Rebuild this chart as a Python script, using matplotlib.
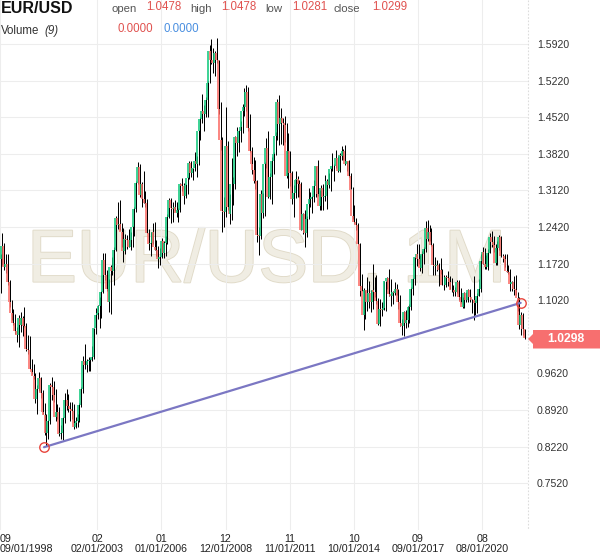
import matplotlib
matplotlib.use('Agg')
import matplotlib.pyplot as plt
from matplotlib.collections import LineCollection
from matplotlib.patches import Polygon
from matplotlib.lines import Line2D
import matplotlib.patheffects as pe
import numpy as np

plt.rcParams['font.family'] = ['Liberation Sans', 'DejaVu Sans']

# ---------------- data (monthly EUR/USD, Sep 1998 .. Jul 2022) ----------------
start_year, start_month = 1998, 9

open_ = [
    1.120, 1.180, 1.205, 1.165,
    1.172, 1.136, 1.098, 1.078, 1.058, 1.043, 1.035, 1.068, 1.055, 1.068, 1.052, 1.009,
    1.007, 0.971, 0.965, 0.957, 0.913, 0.933, 0.953, 0.925, 0.888, 0.883, 0.849, 0.872,
    0.940, 0.937, 0.921, 0.878, 0.888, 0.846, 0.849, 0.876, 0.911, 0.911, 0.900, 0.895,
    0.890, 0.860, 0.868, 0.872, 0.901, 0.933, 0.986, 0.978, 0.979, 0.986, 0.988, 0.993,
    1.049, 1.074, 1.078, 1.091, 1.117, 1.179, 1.150, 1.124, 1.099, 1.165, 1.158, 1.199,
    1.259, 1.245, 1.248, 1.232, 1.197, 1.220, 1.217, 1.203, 1.218, 1.243, 1.276, 1.327,
    1.357, 1.304, 1.325, 1.296, 1.288, 1.230, 1.210, 1.212, 1.233, 1.203, 1.199, 1.180,
    1.184, 1.216, 1.193, 1.212, 1.262, 1.293, 1.279, 1.276, 1.281, 1.268, 1.275, 1.325,
    1.320, 1.302, 1.323, 1.336, 1.365, 1.345, 1.354, 1.369, 1.362, 1.426, 1.448, 1.464,
    1.459, 1.485, 1.518, 1.579, 1.561, 1.555, 1.575, 1.561, 1.467, 1.409, 1.273, 1.270,
    1.397, 1.280, 1.267, 1.325, 1.324, 1.415, 1.403, 1.425, 1.434, 1.464, 1.472, 1.500,
    1.432, 1.387, 1.363, 1.351, 1.330, 1.227, 1.224, 1.305, 1.268, 1.363, 1.393, 1.299,
    1.338, 1.369, 1.381, 1.417, 1.481, 1.439, 1.450, 1.440, 1.437, 1.339, 1.387, 1.345,
    1.296, 1.308, 1.332, 1.334, 1.324, 1.236, 1.267, 1.230, 1.258, 1.286, 1.296, 1.299,
    1.320, 1.358, 1.306, 1.282, 1.317, 1.300, 1.301, 1.330, 1.322, 1.353, 1.358, 1.359,
    1.374, 1.349, 1.380, 1.377, 1.387, 1.363, 1.369, 1.339, 1.313, 1.263, 1.252, 1.245,
    1.210, 1.129, 1.120, 1.073, 1.122, 1.099, 1.115, 1.099, 1.121, 1.118, 1.101, 1.057,
    1.086, 1.083, 1.087, 1.138, 1.145, 1.113, 1.110, 1.117, 1.116, 1.124, 1.098, 1.059,
    1.052, 1.080, 1.058, 1.065, 1.090, 1.124, 1.142, 1.184, 1.191, 1.181, 1.164, 1.190,
    1.200, 1.241, 1.219, 1.232, 1.208, 1.169, 1.168, 1.169, 1.160, 1.160, 1.131, 1.131,
    1.147, 1.145, 1.137, 1.122, 1.122, 1.117, 1.137, 1.108, 1.099, 1.090, 1.115, 1.102,
    1.121, 1.109, 1.103, 1.103, 1.096, 1.110, 1.123, 1.178, 1.194, 1.172, 1.165, 1.193,
    1.222, 1.214, 1.207, 1.173, 1.202, 1.223, 1.186, 1.187, 1.181, 1.158, 1.156, 1.134,
    1.137, 1.124, 1.122, 1.107, 1.054, 1.073, 1.0478,
]

high = [
    1.190, 1.230, 1.212, 1.190,
    1.191, 1.141, 1.103, 1.085, 1.075, 1.050, 1.074, 1.080, 1.071, 1.090, 1.059, 1.036,
    1.034, 0.990, 0.980, 0.962, 0.939, 0.964, 0.955, 0.931, 0.905, 0.884, 0.873, 0.944,
    0.955, 0.947, 0.933, 0.903, 0.897, 0.863, 0.878, 0.925, 0.933, 0.922, 0.907, 0.908,
    0.904, 0.878, 0.884, 0.905, 0.937, 0.996, 1.019, 0.989, 0.994, 0.991, 1.015, 1.049,
    1.087, 1.093, 1.109, 1.120, 1.193, 1.193, 1.160, 1.143, 1.169, 1.185, 1.203, 1.264,
    1.290, 1.293, 1.250, 1.240, 1.229, 1.227, 1.239, 1.232, 1.244, 1.281, 1.330, 1.367,
    1.362, 1.329, 1.349, 1.310, 1.295, 1.238, 1.232, 1.249, 1.252, 1.218, 1.205, 1.202,
    1.221, 1.216, 1.225, 1.266, 1.298, 1.297, 1.289, 1.294, 1.290, 1.279, 1.327, 1.336,
    1.327, 1.325, 1.338, 1.368, 1.368, 1.355, 1.385, 1.377, 1.427, 1.452, 1.497, 1.475,
    1.490, 1.522, 1.590, 1.602, 1.584, 1.578, 1.604, 1.562, 1.482, 1.415, 1.300, 1.472,
    1.406, 1.305, 1.374, 1.338, 1.417, 1.434, 1.428, 1.444, 1.478, 1.508, 1.514, 1.510,
    1.458, 1.395, 1.375, 1.370, 1.332, 1.243, 1.312, 1.308, 1.366, 1.413, 1.425, 1.345,
    1.376, 1.385, 1.424, 1.486, 1.494, 1.470, 1.450, 1.454, 1.441, 1.422, 1.388, 1.349,
    1.323, 1.349, 1.339, 1.332, 1.328, 1.269, 1.274, 1.264, 1.317, 1.309, 1.302, 1.331,
    1.358, 1.371, 1.313, 1.322, 1.324, 1.342, 1.334, 1.345, 1.355, 1.384, 1.362, 1.389,
    1.378, 1.383, 1.397, 1.392, 1.399, 1.369, 1.370, 1.345, 1.319, 1.285, 1.260, 1.250,
    1.212, 1.153, 1.125, 1.122, 1.147, 1.139, 1.121, 1.171, 1.146, 1.150, 1.106, 1.105,
    1.099, 1.139, 1.139, 1.146, 1.162, 1.143, 1.119, 1.137, 1.133, 1.124, 1.112, 1.067,
    1.081, 1.083, 1.091, 1.095, 1.127, 1.145, 1.185, 1.209, 1.209, 1.188, 1.196, 1.203,
    1.254, 1.256, 1.245, 1.240, 1.212, 1.185, 1.179, 1.174, 1.182, 1.162, 1.150, 1.150,
    1.157, 1.149, 1.145, 1.132, 1.127, 1.141, 1.141, 1.125, 1.109, 1.118, 1.118, 1.124,
    1.124, 1.105, 1.149, 1.102, 1.115, 1.142, 1.191, 1.203, 1.201, 1.188, 1.200, 1.231,
    1.235, 1.224, 1.210, 1.215, 1.227, 1.225, 1.191, 1.190, 1.191, 1.169, 1.161, 1.138,
    1.148, 1.150, 1.118, 1.109, 1.079, 1.077, 1.0478,
]

low = [
    1.115, 1.170, 1.160, 1.155,
    1.131, 1.089, 1.064, 1.054, 1.038, 1.023, 1.012, 1.042, 1.034, 1.050, 1.005, 1.000,
    0.970, 0.961, 0.951, 0.906, 0.884, 0.929, 0.915, 0.884, 0.845, 0.823, 0.836, 0.866,
    0.912, 0.907, 0.872, 0.874, 0.843, 0.837, 0.834, 0.868, 0.893, 0.889, 0.871, 0.874,
    0.856, 0.857, 0.860, 0.869, 0.898, 0.925, 0.971, 0.964, 0.966, 0.967, 0.985, 0.989,
    1.037, 1.066, 1.049, 1.068, 1.115, 1.141, 1.120, 1.080, 1.076, 1.150, 1.131, 1.196,
    1.239, 1.236, 1.203, 1.176, 1.190, 1.200, 1.203, 1.199, 1.204, 1.225, 1.270, 1.325,
    1.299, 1.280, 1.288, 1.281, 1.230, 1.199, 1.187, 1.210, 1.199, 1.186, 1.164, 1.169,
    1.182, 1.183, 1.187, 1.209, 1.260, 1.250, 1.251, 1.272, 1.262, 1.251, 1.270, 1.310,
    1.286, 1.297, 1.306, 1.333, 1.338, 1.331, 1.350, 1.337, 1.361, 1.409, 1.440, 1.425,
    1.453, 1.452, 1.518, 1.554, 1.536, 1.531, 1.555, 1.458, 1.390, 1.233, 1.242, 1.261,
    1.275, 1.248, 1.256, 1.285, 1.315, 1.378, 1.385, 1.405, 1.421, 1.455, 1.464, 1.425,
    1.386, 1.344, 1.327, 1.315, 1.214, 1.188, 1.220, 1.259, 1.263, 1.355, 1.297, 1.296,
    1.286, 1.343, 1.380, 1.409, 1.399, 1.400, 1.398, 1.405, 1.336, 1.317, 1.320, 1.286,
    1.262, 1.298, 1.299, 1.300, 1.236, 1.229, 1.204, 1.222, 1.257, 1.280, 1.269, 1.290,
    1.299, 1.302, 1.275, 1.274, 1.275, 1.292, 1.277, 1.316, 1.311, 1.350, 1.330, 1.354,
    1.348, 1.347, 1.370, 1.370, 1.360, 1.350, 1.338, 1.315, 1.258, 1.250, 1.236, 1.210,
    1.110, 1.120, 1.046, 1.066, 1.082, 1.087, 1.079, 1.086, 1.109, 1.094, 1.055, 1.052,
    1.071, 1.084, 1.082, 1.123, 1.110, 1.091, 1.095, 1.112, 1.112, 1.085, 1.052, 1.035,
    1.034, 1.049, 1.050, 1.058, 1.084, 1.112, 1.131, 1.168, 1.172, 1.157, 1.155, 1.172,
    1.195, 1.216, 1.215, 1.206, 1.151, 1.151, 1.158, 1.130, 1.152, 1.132, 1.122, 1.127,
    1.129, 1.123, 1.118, 1.110, 1.111, 1.116, 1.102, 1.096, 1.088, 1.088, 1.099, 1.098,
    1.098, 1.078, 1.064, 1.073, 1.077, 1.110, 1.118, 1.171, 1.161, 1.162, 1.160, 1.193,
    1.203, 1.195, 1.170, 1.170, 1.199, 1.184, 1.175, 1.166, 1.156, 1.152, 1.119, 1.120,
    1.112, 1.112, 1.081, 1.047, 1.035, 1.036, 1.0281,
]

close = [
    1.180, 1.205, 1.165, 1.172,
    1.136, 1.098, 1.078, 1.058, 1.043, 1.035, 1.068, 1.055, 1.068, 1.052, 1.009, 1.007,
    0.971, 0.965, 0.957, 0.913, 0.933, 0.953, 0.925, 0.888, 0.883, 0.849, 0.872, 0.940,
    0.937, 0.921, 0.878, 0.888, 0.846, 0.849, 0.876, 0.911, 0.911, 0.900, 0.895, 0.890,
    0.860, 0.868, 0.872, 0.901, 0.933, 0.986, 0.978, 0.979, 0.986, 0.988, 0.993, 1.049,
    1.074, 1.078, 1.091, 1.117, 1.179, 1.150, 1.124, 1.099, 1.165, 1.158, 1.199, 1.259,
    1.245, 1.248, 1.232, 1.197, 1.220, 1.217, 1.203, 1.218, 1.243, 1.276, 1.327, 1.357,
    1.304, 1.325, 1.296, 1.288, 1.230, 1.210, 1.212, 1.233, 1.203, 1.199, 1.180, 1.184,
    1.216, 1.193, 1.212, 1.262, 1.293, 1.279, 1.276, 1.281, 1.268, 1.275, 1.325, 1.320,
    1.302, 1.323, 1.336, 1.365, 1.345, 1.354, 1.369, 1.362, 1.426, 1.448, 1.464, 1.459,
    1.485, 1.518, 1.579, 1.561, 1.555, 1.575, 1.561, 1.467, 1.409, 1.273, 1.270, 1.397,
    1.280, 1.267, 1.325, 1.324, 1.415, 1.403, 1.425, 1.434, 1.464, 1.472, 1.500, 1.432,
    1.387, 1.363, 1.351, 1.330, 1.227, 1.224, 1.305, 1.268, 1.363, 1.393, 1.299, 1.338,
    1.369, 1.381, 1.417, 1.481, 1.439, 1.450, 1.440, 1.437, 1.339, 1.387, 1.345, 1.296,
    1.308, 1.332, 1.334, 1.324, 1.236, 1.267, 1.230, 1.258, 1.286, 1.296, 1.299, 1.320,
    1.358, 1.306, 1.282, 1.317, 1.300, 1.301, 1.330, 1.322, 1.353, 1.358, 1.359, 1.374,
    1.349, 1.380, 1.377, 1.387, 1.363, 1.369, 1.339, 1.313, 1.263, 1.252, 1.245, 1.210,
    1.129, 1.120, 1.073, 1.122, 1.099, 1.115, 1.099, 1.121, 1.118, 1.101, 1.057, 1.086,
    1.083, 1.087, 1.138, 1.145, 1.113, 1.110, 1.117, 1.116, 1.124, 1.098, 1.059, 1.052,
    1.080, 1.058, 1.065, 1.090, 1.124, 1.142, 1.184, 1.191, 1.181, 1.164, 1.190, 1.200,
    1.241, 1.219, 1.232, 1.208, 1.169, 1.168, 1.169, 1.160, 1.160, 1.131, 1.131, 1.147,
    1.145, 1.137, 1.122, 1.122, 1.117, 1.137, 1.108, 1.099, 1.090, 1.115, 1.102, 1.121,
    1.109, 1.103, 1.103, 1.096, 1.110, 1.123, 1.178, 1.194, 1.172, 1.165, 1.193, 1.222,
    1.214, 1.207, 1.173, 1.202, 1.223, 1.186, 1.187, 1.181, 1.158, 1.156, 1.134, 1.137,
    1.124, 1.122, 1.107, 1.054, 1.073, 1.0478, 1.0299,
]

x_tick_dates = ['09/01/1998', '02/01/2003', '01/01/2006', '12/01/2008',
                '11/01/2011', '10/01/2014', '09/01/2017', '08/01/2020']
y_ticks = [1.5920, 1.5220, 1.4520, 1.3820, 1.3120, 1.2420, 1.1720, 1.1020,
           1.0320, 0.9620, 0.8920, 0.8220, 0.7520]
y_tick_labels = ['1.5920', '1.5220', '1.4520', '1.3820', '1.3120', '1.2420', '1.1720',
                 '1.1020', '', '0.9620', '0.8920', '0.8220', '0.7520']

trend_dates = ['09/01/2000', '05/01/2022']
trend_prices = [0.821, 1.097]

header_open, header_high, header_low, header_close = '1.0478', '1.0478', '1.0281', '1.0299'
last_price_label = '1.0298'
volume_vals = ['0.0000', '0.0000']


def month_index(date_str):
    m, d, y = date_str.split('/')
    return (int(y) - start_year) * 12 + (int(m) - start_month)


# ---------------- figure ----------------
W, H = 600, 558
fig = plt.figure(figsize=(W / 100, H / 100), dpi=100)
fig.patch.set_facecolor('white')


def fx(x):
    return x / W


def fy(y):
    return 1 - y / H


ax = fig.add_axes([0, fy(530), fx(528), 530 / H])
ax.set_xlim(0, 288)
ax.set_ylim(0.6627, 1.6761)
for s in ax.spines.values():
    s.set_visible(False)

# grid / ticks
xt = [month_index(d) for d in x_tick_dates]
xtl = [d.split('/')[0] + '\n' + d for d in x_tick_dates]
ax.set_xticks(xt)
ax.set_xticklabels(xtl, fontsize=7.7, color='#222222', linespacing=0.95)
ax.get_xticklabels()[0].set_horizontalalignment('left')
ax.tick_params(axis='x', length=0, pad=3)
ax.yaxis.tick_right()
ax.set_yticks(y_ticks)
ax.set_yticklabels(y_tick_labels, fontsize=7.6, color='#333333')
ax.tick_params(axis='y', length=0, pad=6.5)
ax.grid(True, color='#ededed', lw=0.75, zorder=0)
ax.set_axisbelow(True)

# watermark
ax.text(0.505, 0.4685, 'EUR/USD, 1M', transform=ax.transAxes, ha='center', va='baseline',
        fontsize=53.5, color='#f0ede3', zorder=0.5,
        path_effects=[pe.withStroke(linewidth=1.3, foreground='#e0dac8')])

# candles
idx = np.arange(len(close))
o = np.array(open_)
h = np.array(high)
l = np.array(low)
c = np.array(close)
wicks = [[(i + 0.3, l[i]), (i + 0.3, h[i])] for i in idx]
bodies = [[(i - 0.3, o[i]), (i - 0.3, c[i])] for i in idx]
body_cols = ['#10c87c' if c[i] >= o[i] else '#fa6a64' for i in idx]
ax.add_collection(LineCollection(wicks, colors='#000000', linewidths=0.72, zorder=2))
ax.add_collection(LineCollection(bodies, colors=body_cols, linewidths=1.15, zorder=3))

# trend line
tx = [month_index(d) for d in trend_dates]
ax.plot(tx, trend_prices, color='#7b77c3', lw=1.6, zorder=4, solid_capstyle='round')
ax.plot(tx, trend_prices, 'o', ms=6.8, mfc='none', mec='#e8453c', mew=1.0, zorder=5,
        clip_on=False)

# right dashed border
fig.add_artist(Line2D([fx(528), fx(528)], [fy(0), fy(530)], transform=fig.transFigure,
                      color='#dcdcdc', lw=0.8, ls=(0, (1.5, 1.5))))

# price box
poly = [(528, 339), (533, 334), (533, 330), (600, 330), (600, 348.5), (533, 348.5), (533, 344)]
fig.add_artist(Polygon([(fx(a), fy(b)) for a, b in poly], closed=True, transform=fig.transFigure,
                       facecolor='#f76f6f', edgecolor='none', zorder=10))
fig.text(fx(566), fy(339.5), last_price_label, ha='center', va='center', color='white',
         fontsize=8.7, fontweight='bold', zorder=11)

# header
fig.text(fx(1), fy(13), 'EUR/USD', fontsize=11.5, fontweight='bold', color='#111111',
         va='baseline', ha='left')
lab_c = '#555555'
val_c = '#e0524f'
items = [('open', 112, header_open, 146), ('high', 190, header_high, 221),
         ('low', 265, header_low, 292), ('close', 334, header_close, 372)]
for lab, lx, val, vx in items:
    fig.text(fx(lx), fy(12.5), lab, fontsize=8.2, color=lab_c, va='baseline', ha='left')
    fig.text(fx(vx), fy(9.5), val, fontsize=8.3, color=val_c, va='baseline', ha='left')

fig.text(fx(1), fy(34), 'Volume', fontsize=8.3, color='#333333', va='baseline', ha='left')
fig.text(fx(44), fy(34), '(9)', fontsize=8.3, color='#333333', va='baseline', ha='left',
         style='italic')
fig.text(fx(118), fy(32), volume_vals[0], fontsize=8.3, color=val_c, va='baseline', ha='left')
fig.text(fx(163), fy(32), volume_vals[1], fontsize=8.3, color='#4a8fe0', va='baseline', ha='left')

fig.savefig('out.png', dpi=100, facecolor='white')
